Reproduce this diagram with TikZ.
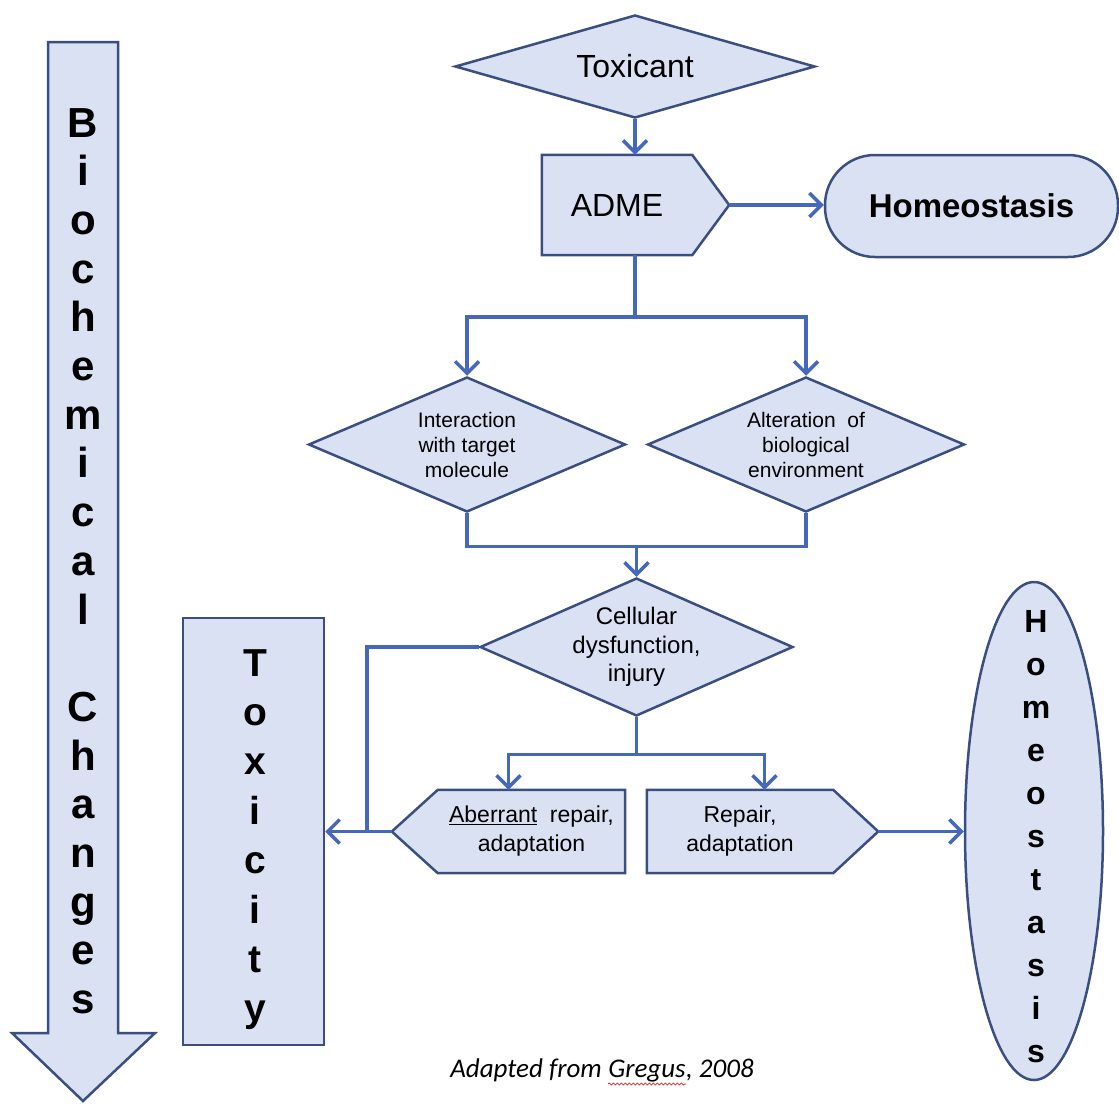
\documentclass[tikz,border=0pt]{standalone}
\usepackage{fontspec}
\setmainfont{Liberation Sans}
\newfontfamily\capfont{Carlito}
\usetikzlibrary{shapes.geometric,arrows.meta,backgrounds,calc,decorations.pathmorphing}
\definecolor{boxfill}{RGB}{217,225,242}
\definecolor{boxedge}{RGB}{58,78,128}
\definecolor{linkblue}{RGB}{70,104,186}
\definecolor{wavered}{RGB}{220,40,40}
\begin{document}
\begin{tikzpicture}[x=1pt,y=-1pt,
  shapebox/.style={draw=boxedge,fill=boxfill,line width=2.5pt},
  link/.style={draw=linkblue,line width=3.5pt},
  arr/.style={link,-{Straight Barb[length=12pt,width=24pt]}},
  diam/.style={shapebox,diamond,inner sep=0pt,aspect=2.3,align=center},
  bodybox/.style={inner sep=0pt,align=center},
  vlet/.style={font=\bfseries\fontsize{#1}{#1}\selectfont,anchor=base,inner sep=0pt},
  captxt/.style={font=\capfont\itshape\fontsize{27}{30}\selectfont,inner sep=0pt}
]
\useasboundingbox (0,0) rectangle (1119,1103);

% Big down arrow: Biochemical Changes
\draw[shapebox] (48,42) -- (118,42) -- (118,1033) -- (155,1033) -- (83,1101)
  -- (12,1033) -- (48,1033) -- cycle;
\foreach \ch/\k in {B/0,i/1,o/2,c/3,h/4,e/5,m/6,i/7,c/8,a/9,l/10,C/12,h/13,a/14,n/15,g/16,e/17,s/18}
  \node[vlet=42] (bc\k) at (83,137+\k*48.7) {\ch};

% Toxicant
\node[diam,minimum width=360pt,minimum height=103pt,font=\fontsize{32}{36}\selectfont]
  (toxicant) at (635,66.5) {Toxicant};

% ADME
\node[bodybox,minimum width=150pt,minimum height=100pt,font=\fontsize{32}{36}\selectfont]
  (adme) at (617,205) {ADME};
\coordinate (admetip) at ($(adme.east)+(37,0)$);

% Homeostasis (top)
\node[shapebox,rectangle,rounded corners=50pt,minimum width=293pt,minimum height=102pt,
  font=\bfseries\fontsize{33}{36}\selectfont] (homeo1) at (971.5,206) {Homeostasis};

% Two diamonds
\node[diam,minimum width=317pt,minimum height=135pt,font=\fontsize{21}{25}\selectfont]
  (inter) at (467,444.5) {Interaction\\with target\\molecule};
\node[diam,minimum width=317pt,minimum height=135pt,font=\fontsize{21}{25}\selectfont]
  (alter) at (806,444.5) {Alteration\ \ of\\biological\\environment};

% Cellular dysfunction
\node[diam,aspect=2.27,minimum width=313pt,minimum height=138pt,font=\fontsize{24}{28.5}\selectfont]
  (cell) at (636.5,647) {Cellular\\dysfunction,\\injury};

% Aberrant repair / Repair
\node[bodybox,minimum width=187pt,minimum height=83pt,font=\fontsize{23}{29}\selectfont]
  (aber) at (531.5,831.5) {\underline{Aberrant}\hspace{0.55em}repair,\\adaptation};
\coordinate (abertip) at ($(aber.west)+(-46,0)$);
\node[bodybox,minimum width=186pt,minimum height=83pt,font=\fontsize{23}{29}\selectfont]
  (rep) at (740,831.5) {Repair,\\adaptation};
\coordinate (reptip) at ($(rep.east)+(45,0)$);

% Toxicity box
\node[shapebox,rectangle,minimum width=141pt,minimum height=427pt,inner sep=0pt]
  (toxy) at (253.5,831.5) {};
\foreach \ch/\k in {T/0,o/1,x/2,i/3,c/4,i/5,t/6,y/7}
  \node[vlet=39] (tx\k) at (255,676+\k*49.4) {\ch};

% Homeostasis ellipse
\node[shapebox,ellipse,minimum width=138pt,minimum height=498pt,inner sep=0pt]
  (homv) at (1034,831) {};
\foreach \ch/\k in {H/0,o/1,m/2,e/3,o/4,s/5,t/6,a/7,s/8,i/9,s/10}
  \node[vlet=32] (hv\k) at (1036,632+\k*43) {\ch};

% pentagon outlines behind their texts
\begin{scope}[on background layer]
  \draw[shapebox] (adme.north west) -- (adme.north east) -- (admetip)
    -- (adme.south east) -- (adme.south west) -- cycle;
  \draw[shapebox] (aber.north east) -- (aber.north west) -- (abertip)
    -- (aber.south west) -- (aber.south east) -- cycle;
  \draw[shapebox] (rep.north west) -- (rep.north east) -- (reptip)
    -- (rep.south east) -- (rep.south west) -- cycle;
\end{scope}

% connectors
\draw[arr] (toxicant.south) -- (toxicant.south |- adme.north);
\draw[arr] (admetip) -- (admetip -| homeo1.west);
\coordinate (s1) at ($(toxicant.south |- adme.south)+(0,62)$);
\draw[link] (toxicant.south |- adme.south) -- (s1);
\draw[arr] (s1) -| (inter.north);
\draw[arr] (s1) -| (alter.north);
\coordinate (j1) at ($(cell.north |- inter.south)+(0,33)$);
\draw[link] (inter.south) |- (j1) -| (alter.south);
\draw[arr] (j1) -- (cell.north);
\coordinate (s2) at ($(cell.south)+(0,37)$);
\coordinate (s2l) at ($(s2)+(-128,0)$);
\coordinate (s2r) at ($(s2)+(128,0)$);
\draw[link] (cell.south) -- (s2);
\draw[arr] (s2) -- (s2l) -- (s2l |- aber.north);
\draw[arr] (s2) -- (s2r) -- (s2r |- rep.north);
\coordinate (tb) at ($(abertip)+(-25,0)$);
\draw[link] (cell.west) -| (tb);
\draw[arr] (abertip) -- (abertip -| toxy.east);
\draw[arr] (reptip) -- (reptip -| homv.west);

% caption
\node[captxt,anchor=base] (capB) at (647,1077) {Gregus};
\node[captxt,anchor=base east] (capA) at (capB.base west) {Adapted from\ \mbox{}};
\node[captxt,anchor=base west] (capC) at (capB.base east) {, 2008};
\draw[wavered,line width=0.8pt,decorate,decoration={snake,segment length=4pt,amplitude=1pt}]
  ($(capB.base west)+(0,7)$) -- ($(capB.base east)+(0,7)$);
\end{tikzpicture}
\end{document}
